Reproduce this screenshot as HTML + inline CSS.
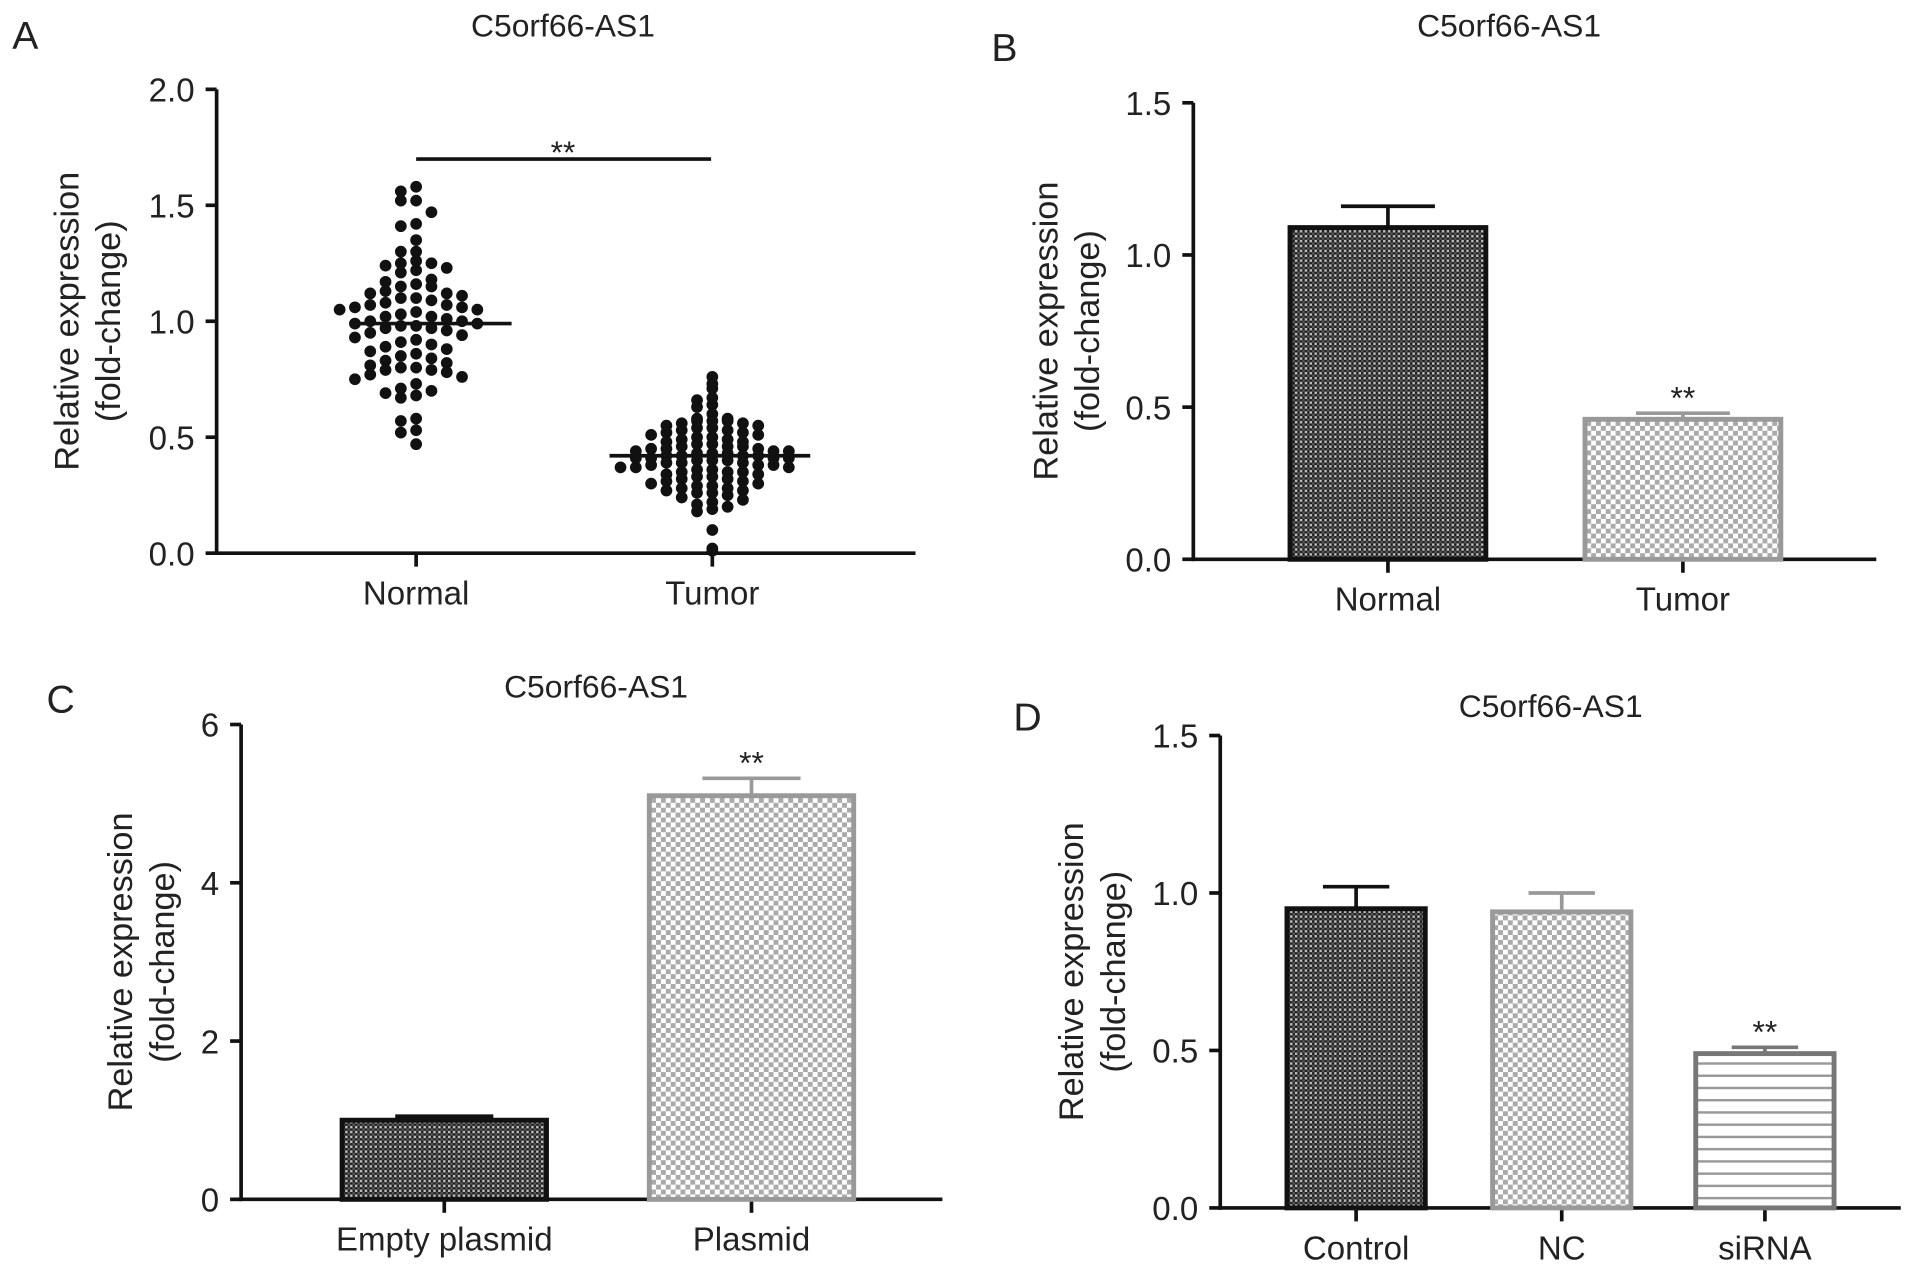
<!DOCTYPE html>
<html><head><meta charset="utf-8"><style>
html,body{margin:0;padding:0;background:#fff;}
svg{display:block;}
text{font-family:"Liberation Sans",sans-serif;fill:#222;}
</style></head><body>
<svg id="fig" width="1913" height="1274" viewBox="0 0 1563 1041" preserveAspectRatio="none" xmlns="http://www.w3.org/2000/svg">
<defs>
<pattern id="pDark" width="4" height="4" patternUnits="userSpaceOnUse"><rect width="4" height="4" fill="#555"/><rect width="2" height="2" fill="#222"/><rect x="2" y="2" width="2" height="2" fill="#222"/><rect x="2" y="0" width="2" height="2" fill="#bbb"/></pattern>
<pattern id="pLight" width="8" height="8" patternUnits="userSpaceOnUse"><rect width="8" height="8" fill="#fff"/><rect width="4" height="4" fill="#aaa"/><rect x="4" y="4" width="4" height="4" fill="#aaa"/></pattern>
<pattern id="pLines" width="8" height="10" patternUnits="userSpaceOnUse"><rect width="8" height="10" fill="#fff"/><rect y="8" width="8" height="2" fill="#999"/></pattern>
</defs>
<g id="root"></g>
</svg>
<script>
// ---------- Data ----------
const scatterCategories = ["Normal","Tumor"];
const normalValues = [1.58,1.56,1.52,1.52,1.47,1.42,1.41,1.35,1.30,1.30,1.26,1.25,1.25,1.24,1.23,1.22,1.21,1.18,1.17,1.16,1.15,1.15,1.13,1.12,1.12,1.11,1.10,1.10,1.09,1.08,1.07,1.07,1.06,1.06,1.05,1.05,1.04,1.03,1.02,1.02,1.01,1.00,1.00,0.99,0.99,0.98,0.98,0.97,0.97,0.96,0.95,0.94,0.93,0.92,0.91,0.90,0.89,0.88,0.87,0.86,0.85,0.84,0.83,0.82,0.81,0.80,0.80,0.79,0.79,0.78,0.77,0.76,0.75,0.73,0.71,0.70,0.69,0.68,0.67,0.58,0.57,0.53,0.52,0.47];
const tumorValues = [0.76,0.73,0.71,0.67,0.66,0.64,0.63,0.60,0.58,0.58,0.57,0.57,0.57,0.56,0.56,0.55,0.55,0.54,0.54,0.53,0.53,0.52,0.52,0.51,0.51,0.50,0.50,0.49,0.49,0.48,0.48,0.47,0.47,0.46,0.46,0.46,0.45,0.45,0.45,0.44,0.44,0.44,0.43,0.43,0.43,0.42,0.42,0.42,0.42,0.41,0.41,0.41,0.41,0.40,0.40,0.40,0.39,0.39,0.39,0.38,0.38,0.38,0.37,0.37,0.37,0.36,0.36,0.35,0.35,0.35,0.34,0.34,0.33,0.33,0.32,0.32,0.31,0.31,0.30,0.30,0.29,0.29,0.28,0.28,0.27,0.27,0.26,0.26,0.25,0.24,0.23,0.22,0.21,0.20,0.19,0.18,0.10,0.02,0.01];
const scatterMeans = [0.99,0.42];
const scatterTicks = ["0.0","0.5","1.0","1.5","2.0"];

const bCategories = ["Normal","Tumor"];
const bValues = [1.09,0.46];
const bErrors = [0.07,0.02];
const bTicks = ["0.0","0.5","1.0","1.5"];

const cCategories = ["Empty plasmid","Plasmid"];
const cValues = [1.0,5.1];
const cErrors = [0.05,0.22];
const cTicks = ["0","2","4","6"];

const dCategories = ["Control","NC","siRNA"];
const dValues = [0.95,0.94,0.49];
const dErrors = [0.07,0.06,0.02];
const dTicks = ["0.0","0.5","1.0","1.5"];

// ---------- helpers ----------
const NS="http://www.w3.org/2000/svg";
const root=document.getElementById('root');
function el(tag,attrs,parent,txt){const e=document.createElementNS(NS,tag);for(const k in attrs)e.setAttribute(k,attrs[k]);if(txt!==undefined)e.textContent=txt;(parent||root).appendChild(e);return e;}
function linear(d0,d1,r0,r1){return v=>r0+(v-d0)/(d1-d0)*(r1-r0);}

function axes(g,cfg){
  const y=cfg.y;
  const ax=el('line',{x1:cfg.x0,y1:y(cfg.ymax),x2:cfg.x0,y2:y(0)+1.5,stroke:'#111','stroke-width':3},g);
  
  const xa=el('line',{x1:cfg.x0-1.5,y1:y(0),x2:cfg.x1,y2:y(0),stroke:'#111','stroke-width':3},g);
  
  cfg.ticks.forEach(t=>{
    const v=parseFloat(t);
    el('line',{x1:cfg.x0-9,y1:y(v),x2:cfg.x0,y2:y(v),stroke:'#111','stroke-width':3},g);
    const tl=el('text',{x:cfg.x0-18,y:y(v)+10,'text-anchor':'end','font-size':27},g,t);
    
  });
  cfg.cats.forEach((c,i)=>{
    const cx=cfg.xc[i];
    el('line',{x1:cx,y1:y(0),x2:cx,y2:y(0)+11,stroke:'#111','stroke-width':3},g);
    const xl=el('text',{x:cx,y:y(0)+42,'text-anchor':'middle','font-size':27},g,c);
    
  });
  const t=el('text',{x:cfg.tx,y:cfg.ty,'text-anchor':'middle','font-size':26},g,'C5orf66-AS1');
  
  const L=el('text',{x:cfg.lx,y:cfg.ly,'font-size':32},g,cfg.letter);
  
  const ym=(y(0)+y(cfg.ymax))/2;
  const a1=el('text',{x:0,y:0,'text-anchor':'middle','font-size':28,transform:`translate(${cfg.atx},${ym}) rotate(-90)`},g,'Relative expression');
  
  const a2=el('text',{x:0,y:0,'text-anchor':'middle','font-size':28,transform:`translate(${cfg.atx+34},${ym}) rotate(-90)`},g,'(fold-change)');
  
}

function bars(g,cfg,vals,errs,fills,strokes,bw){
  vals.forEach((v,i)=>{
    const cx=cfg.xc[i],y=cfg.y;
    const err=el('line',{x1:cx,y1:y(v),x2:cx,y2:y(v+errs[i]),stroke:strokes[i],'stroke-width':3},g);
    
    const cap=el('line',{x1:cx-bw*0.24,y1:y(v+errs[i]),x2:cx+bw*0.24,y2:y(v+errs[i]),stroke:strokes[i],'stroke-width':3},g);
    
    const r=el('rect',{x:cx-bw/2,y:y(v),width:bw,height:y(0)-y(v),fill:fills[i],stroke:strokes[i],'stroke-width':4},g);
    
  });
}
function stars(g,x,y){const s=el('text',{x:x,y:y,'text-anchor':'middle','font-size':26},g,'**');}

// ---------- Panel A ----------
const gA=el('g',{});
const cfgA={x0:177,x1:748,y:linear(0,2,452,73),ymax:2,ticks:scatterTicks,cats:scatterCategories,xc:[340,582],tx:460,ty:30,lx:10,ly:40,letter:'A',atx:64};
axes(gA,cfgA);
[normalValues,tumorValues].forEach((vals,gi)=>{
  const bins={};
  const bw = gi===0?0.06:0.035;
  vals.forEach(v=>{
    const b=Math.round(v/bw);bins[b]=(bins[b]||0)+1;const k=bins[b]-1;
    const off=(k%2===0?1:-1)*Math.ceil(k/2)*12.5;
    const c=el('circle',{cx:cfgA.xc[gi]+off,cy:cfgA.y(v),r:4.8,fill:'#111'},gA);
    
  });
  const m=scatterMeans[gi];
  const ml=el('line',{x1:cfgA.xc[gi]-(gi?84:53),y1:cfgA.y(m),x2:cfgA.xc[gi]+(gi?80:78),y2:cfgA.y(m),stroke:'#111','stroke-width':3},gA);
  
});
const sig=el('line',{x1:340,y1:130,x2:581,y2:130,stroke:'#111','stroke-width':3},gA);

stars(gA,460,133);

// ---------- Panel B ----------
const gB=el('g',{});
const cfgB={x0:975,x1:1533,y:linear(0,1.5,457,84),ymax:1.5,ticks:bTicks,cats:bCategories,xc:[1134,1375],tx:1233,ty:30,lx:810,ly:50,letter:'B',atx:864};
axes(gB,cfgB);
bars(gB,cfgB,bValues,bErrors,['url(#pDark)','url(#pLight)'],['#111','#999'],160);
stars(gB,1375,cfgB.y(bValues[1]+bErrors[1])-4);

// ---------- Panel C ----------
const gC=el('g',{});
const cfgC={x0:197,x1:770,y:linear(0,6,980,592),ymax:6,ticks:cTicks,cats:cCategories,xc:[363,614],tx:487,ty:570,lx:38,ly:582,letter:'C',atx:108};
axes(gC,cfgC);
bars(gC,cfgC,cValues,cErrors,['url(#pDark)','url(#pLight)'],['#111','#999'],167);
stars(gC,614,cfgC.y(cValues[1]+cErrors[1])-4);

// ---------- Panel D ----------
const gD=el('g',{});
const cfgD={x0:997,x1:1553,y:linear(0,1.5,987,601),ymax:1.5,ticks:dTicks,cats:dCategories,xc:[1108,1276,1442],tx:1267,ty:586,lx:828,ly:597,letter:'D',atx:885};
axes(gD,cfgD);
bars(gD,cfgD,dValues,dErrors,['url(#pDark)','url(#pLight)','url(#pLines)'],['#111','#999','#777'],113);
stars(gD,1442,cfgD.y(dValues[2]+dErrors[2])-4);
</script>
</body></html>
